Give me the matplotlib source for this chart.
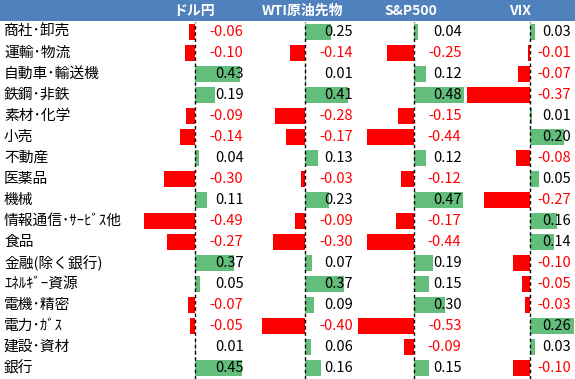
import matplotlib
matplotlib.use("Agg")
import matplotlib.pyplot as plt
from matplotlib.patches import Rectangle

plt.rcParams['font.family'] = ['Noto Sans CJK JP', 'DejaVu Sans']

sectors = ["商社･卸売", "運輸･物流", "自動車･輸送機", "鉄鋼･非鉄", "素材･化学", "小売",
           "不動産", "医薬品", "機械", "情報通信･ｻｰﾋﾞｽ他", "食品", "金融(除く銀行)",
           "ｴﾈﾙｷﾞｰ資源", "電機･精密", "電力･ｶﾞｽ", "建設･資材", "銀行"]
columns = ["ドル円", "WTI原油先物", "S&P500", "VIX"]
usdjpy = [-0.06, -0.10, 0.43, 0.19, -0.09, -0.14, 0.04, -0.30, 0.11, -0.49, -0.27, 0.37, 0.05, -0.07, -0.05, 0.01, 0.45]
wti = [0.25, -0.14, 0.01, 0.41, -0.28, -0.17, 0.13, -0.03, 0.23, -0.09, -0.30, 0.07, 0.37, 0.09, -0.40, 0.06, 0.16]
spx = [0.04, -0.25, 0.12, 0.48, -0.15, -0.44, 0.12, -0.12, 0.47, -0.17, -0.44, 0.19, 0.15, 0.30, -0.53, -0.09, 0.15]
vix = [0.03, -0.01, -0.07, -0.37, 0.01, 0.20, -0.08, 0.05, -0.27, 0.16, 0.14, -0.10, -0.05, -0.03, 0.26, 0.03, -0.10]
series = [usdjpy, wti, spx, vix]

W, H = 575, 379
fig = plt.figure(figsize=(W / 100, H / 100), dpi=100)
base = fig.add_axes([0, 0, 1, 1])
base.set_xlim(0, W)
base.set_ylim(H, 0)
base.axis('off')

HEADER_H = 21
ROW_H = 21
n = len(sectors)
top = HEADER_H + 0.5

# header
base.add_patch(Rectangle((0, 0), W, HEADER_H, facecolor='#4F81BD', edgecolor='none'))
header_x = [194, 302, 411, 520]
for name, hx in zip(columns, header_x):
    base.text(hx, HEADER_H / 2 + 0.5, name, color='white', fontsize=10, fontweight='bold',
              ha='center', va='center')

# row labels
for i, s in enumerate(sectors):
    base.text(4, top + ROW_H * (i + 0.5), s, fontsize=10.6, ha='left', va='center', color='black')

# column geometry: zero pixel, px per unit, axes left/right px, text right edge px
zero_px = [195, 304.5, 413.5, 530]
scale = [105, 106, 105, 170]
left_px = [140, 250, 352, 462]
right_px = [248, 358, 466, 575]
text_right = [243.5, 353, 461.5, 571]

for vals, z, s, lp, rp in zip(series, zero_px, scale, left_px, right_px):
    ax = fig.add_axes([lp / W, 1 - (top + n * ROW_H) / H, (rp - lp) / W, n * ROW_H / H])
    ax.set_xlim((lp - z) / s, (rp - z) / s)
    ax.set_ylim(n - 0.5, -0.5)
    ax.axis('off')
    ax.patch.set_alpha(0)
    colors = ['#63BE7B' if v >= 0 else '#FF0000' for v in vals]
    ax.barh(range(n), vals, height=0.8, color=colors, zorder=1)
    ax.axvline(0, color='black', lw=1, ls=(0, (2.5, 2)), zorder=2)

# value labels on an overlay on top of the bars
over = fig.add_axes([0, 0, 1, 1])
over.set_xlim(0, W)
over.set_ylim(H, 0)
over.axis('off')
over.patch.set_alpha(0)
for vals, tr in zip(series, text_right):
    for i, v in enumerate(vals):
        over.text(tr, top + ROW_H * (i + 0.5), f"{v:.2f}", fontsize=10.5,
                  ha='right', va='center', color='#FF0000' if v < 0 else 'black')

fig.savefig('out.png', dpi=100)
